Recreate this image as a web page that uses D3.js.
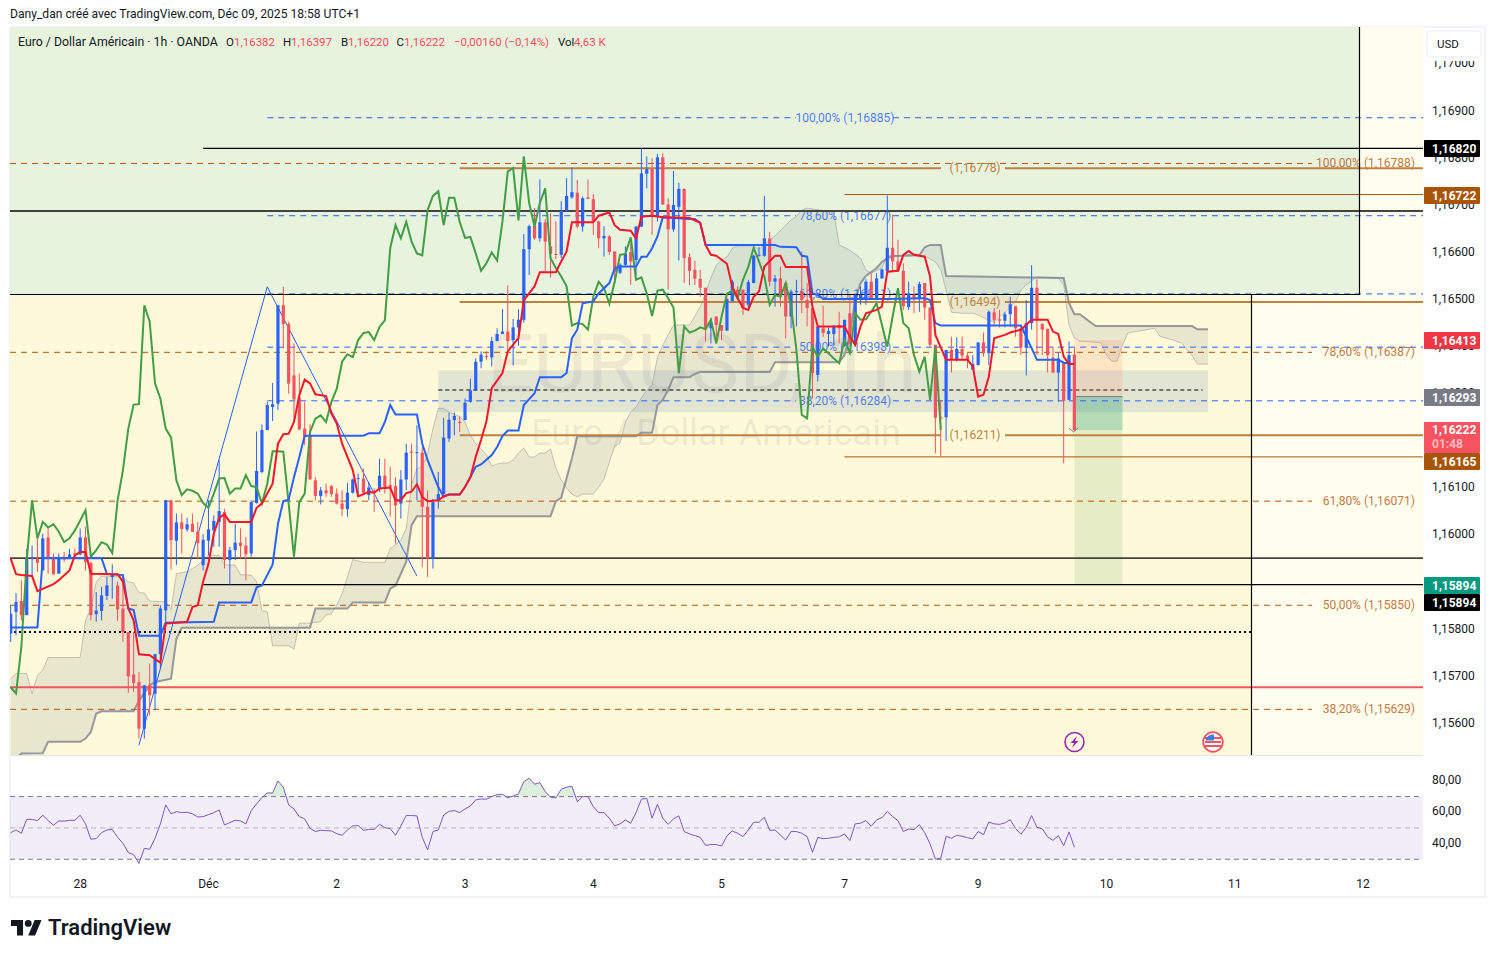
<!DOCTYPE html>
<html>
<head>
<meta charset="utf-8">
<script src="https://d3js.org/d3.v7.min.js"></script>
<style>
  html, body { margin: 0; padding: 0; background: #fff; }
  svg { display: block; font-family: Roboto, "Noto Sans", sans-serif; }
</style>
</head>
<body>
<svg id="chart" width="1495" height="958"></svg>
<script>
// prices are stored as price x 100000 (116382 = 1,16382)
var opens = [115790,115836,115859,115829,115949,115949,115924,115994,115953,115917,
115953,115951,115960,115958,115994,115940,115831,115838,115870,115910,
115892,115843,115793,115703,115687,115588,115680,115662,115746,115839,
116073,115987,116026,116011,116023,116006,115935,115987,116009,116027,
116048,115946,115967,115983,115977,115960,116067,116133,116222,116271,
116278,116487,116447,116338,116291,116225,116210,116115,116082,116094,
116103,116087,116066,116054,116089,116118,116119,116084,116093,116096,
116125,116105,116103,116066,116117,116176,116173,116174,116059,115949,
116073,116086,116204,116243,116239,116243,116282,116306,116367,116379,
116376,116411,116426,116431,116413,116440,116456,116606,116655,116629,
116663,116612,116596,116594,116687,116716,116726,116654,116716,116712,
116665,116629,116633,116601,116556,116573,116600,116583,116654,116766,
116776,116675,116801,116701,116648,116696,116734,116589,116562,116543,
116524,116438,116463,116445,116433,116496,116520,116520,116488,116534,
116592,116592,116629,116537,116544,116534,116463,116515,116517,116498,
116481,116339,116438,116426,116426,116445,116401,116470,116406,116500,
116500,116537,116498,116544,116560,116609,116580,116560,116483,116509,
116500,116534,116482,116403,116249,116249,116392,116371,116394,116380,
116350,116360,116408,116385,116472,116457,116454,116468,116485,116439,
116397,116449,116524,116447,116437,116376,116344,116364,116286,116382];

var highs = [115850,115876,115903,115970,115977,115992,116002,116013,115960,115960,
115963,115970,115970,116013,116016,115942,115878,115889,115910,115937,
115900,115910,115793,115793,115708,115680,115726,115747,115850,116073,
116073,116045,116045,116036,116045,116027,116001,116073,116041,116158,
116055,115974,116023,116013,115995,116073,116219,116234,116282,116322,
116487,116526,116452,116406,116342,116282,116234,116122,116101,116108,
116105,116098,116094,116110,116119,116130,116140,116112,116098,116161,
116161,116144,116122,116137,116193,116193,116232,116186,116094,116076,
116133,116248,116259,116259,116251,116289,116331,116374,116389,116389,
116420,116438,116479,116529,116458,116479,116638,116658,116693,116754,
116670,116682,116665,116708,116757,116779,116753,116718,116754,116723,
116666,116655,116636,116601,116576,116612,116617,116655,116820,116803,
116799,116808,116810,116714,116772,116747,116735,116597,116582,116562,
116524,116459,116463,116445,116502,116541,116527,116520,116541,116594,
116611,116719,116643,116551,116569,116534,116520,116541,116601,116534,
116481,116442,116486,116440,116445,116473,116456,116509,116512,116527,
116542,116555,116555,116565,116720,116679,116626,116576,116537,116527,
116537,116534,116482,116403,116286,116392,116420,116419,116420,116385,
116381,116408,116429,116476,116481,116477,116473,116505,116485,116442,
116498,116572,116542,116449,116437,116399,116387,116364,116410,116397];

var lows = [115772,115786,115818,115829,115910,115921,115924,115917,115914,115917,
115942,115949,115949,115956,115924,115818,115815,115818,115861,115864,
115817,115772,115664,115666,115567,115567,115616,115627,115716,115804,
115926,115935,115960,116006,116006,115949,115924,115956,115974,115974,
115928,115892,115946,115949,115903,115953,116066,116130,116222,116241,
116265,116395,116299,116246,116222,116190,116117,116072,116064,116080,
116080,116064,116039,116038,116087,116080,116084,116073,116048,116091,
116087,116038,115981,116034,116094,116094,116073,115931,115910,115928,
116055,116080,116197,116211,116218,116243,116280,116306,116353,116371,
116357,116410,116428,116392,116359,116401,116450,116551,116626,116622,
116558,116546,116585,116587,116686,116713,116650,116643,116712,116636,
116608,116590,116594,116534,116553,116569,116530,116551,116653,116735,
116636,116665,116700,116520,116643,116582,116534,116530,116530,116505,
116410,116406,116406,116413,116433,116495,116498,116466,116481,116534,
116590,116590,116527,116484,116484,116417,116438,116442,116470,116442,
116289,116325,116420,116399,116403,116406,116399,116399,116399,116488,
116488,116502,116498,116543,116558,116558,116558,116477,116477,116470,
116473,116456,116399,116173,116166,116199,116344,116367,116371,116353,
116350,116359,116378,116360,116445,116440,116440,116442,116420,116381,
116338,116435,116381,116381,116344,116344,116282,116151,116286,116220];

var closes = [115832,115857,115829,115950,115950,115940,115992,115949,115916,115951,
115947,115958,115957,115994,115942,115829,115839,115871,115892,115914,
115841,115793,115699,115685,115588,115680,115659,115746,115843,116073,
115988,116026,116012,116022,116006,115982,115989,116011,116029,116050,
115946,115967,115983,115976,115958,116069,116135,116222,116275,116277,
116487,116447,116321,116287,116223,116207,116117,116082,116094,116088,
116086,116066,116054,116089,116117,116120,116089,116100,116090,116125,
116101,116100,116062,116117,116174,116175,116175,116059,115949,116069,
116086,116206,116244,116252,116238,116280,116306,116367,116382,116378,
116411,116426,116431,116411,116440,116456,116606,116655,116629,116663,
116622,116596,116594,116687,116719,116727,116654,116714,116713,116666,
116629,116634,116600,116558,116573,116597,116580,116654,116767,116776,
116675,116801,116701,116648,116700,116734,116587,116560,116543,116524,
116438,116450,116445,116433,116500,116537,116505,116481,116536,116592,
116594,116629,116537,116544,116505,116463,116516,116517,116498,116481,
116343,116442,116428,116432,116442,116438,116456,116406,116509,116509,
116537,116500,116544,116563,116609,116580,116560,116485,116511,116500,
116532,116482,116403,116248,116246,116392,116371,116394,116380,116371,
116362,116408,116385,116473,116456,116454,116468,116489,116438,116397,
116449,116524,116456,116435,116381,116344,116374,116284,116381,116222];

// ichimoku lines, vertices only where the line bends
var tenkanBars = [0,1,2,4,5,8,9,11,12,13,14,15,20,21,22,23,24,26,28,29,33,34,35,36,37,38,39,40,41,45,46,47,49,50,51,52,53,54,55,56,57,59,60,61,62,63,64,65,67,68,69,71,72,73,74,75,76,77,78,80,81,82,84,85,86,87,88,89,90,92,93,95,96,98,99,102,103,104,105,109,110,112,113,114,116,117,118,120,122,127,129,130,131,132,134,135,136,137,138,139,140,141,143,144,145,149,150,151,156,157,158,159,160,162,163,164,166,167,168,169,171,172,173,175,179,180,181,182,183,184,186,187,189,191,194,195,196,197,198,199];
var tenkan = [115949,115916,115914,115912,115880,115895,115903,115924,115956,115963,115963,115917,115916,115900,115843,115818,115746,115744,115728,115811,115815,115846,115850,115900,115938,116002,116036,116043,116027,116027,116057,116066,116108,116193,116213,116214,116239,116296,116329,116321,116298,116294,116257,116236,116193,116165,116137,116081,116091,116089,116098,116100,116073,116073,116088,116091,116107,116080,116071,116073,116081,116085,116085,116101,116122,116165,116201,116240,116311,116343,116389,116417,116498,116527,116557,116557,116580,116601,116663,116663,116677,116684,116657,116647,116645,116629,116675,116677,116674,116672,116662,116615,116594,116592,116575,116527,116502,116481,116477,116505,116516,116569,116592,116592,116568,116568,116484,116442,116442,116420,116403,116442,116470,116477,116484,116558,116560,116594,116602,116594,116590,116548,116424,116371,116371,116357,116293,116297,116335,116417,116424,116429,116435,116456,116456,116431,116426,116378,116362,116362];

var kijunBars = [0,5,6,17,18,21,22,23,24,28,29,38,39,45,46,47,49,50,51,52,53,54,55,66,67,69,70,71,72,76,77,78,80,81,82,84,85,86,87,88,90,91,92,93,95,96,98,99,103,104,105,106,107,109,110,112,113,114,117,118,119,120,121,122,127,128,129,130,143,144,147,148,149,150,151,152,164,171,172,173,174,189,190,191,192,196,197,199];
var kijun = [115803,115803,115950,115950,115916,115914,115843,115840,115785,115785,115813,115815,115856,115856,115888,115892,115936,116023,116071,116074,116122,116165,116210,116210,116215,116215,116239,116275,116255,116255,116193,116158,116101,116081,116085,116085,116101,116122,116144,116149,116169,116186,116209,116221,116221,116275,116300,116334,116334,116343,116417,116435,116491,116495,116512,116534,116565,116569,116569,116590,116590,116608,116633,116674,116670,116670,116662,116615,116615,116611,116610,116592,116590,116512,116509,116500,116500,116502,116498,116449,116444,116444,116420,116396,116371,116371,116365,116362];

var spanABars = [0,1,3,4,5,6,7,13,14,15,16,17,21,22,23,24,25,26,29,30,31,33,34,35,37,39,40,42,43,45,46,47,48,49,52,53,54,56,58,59,60,61,62,63,64,66,70,71,73,74,75,76,77,78,79,80,81,82,84,85,86,87,88,89,90,91,92,93,94,95,96,97,98,99,100,101,102,103,104,105,106,107,109,110,111,112,113,114,115,116,117,118,119,120,121,122,123,124,127,129,130,131,132,133,134,135,136,139,140,142,143,145,146,147,148,149,154,155,157,159,160,161,163,164,165,167,169,171,173,174,175,176,178,180,181,183,184,186,188,189,190,192,196,197,198,199,200,204,205,206,207,208,209,214,215,218,219,221,222,224];
var spanA = [115694,115705,115705,115662,115701,115712,115739,115739,115818,115843,115900,115912,115910,115900,115897,115877,115876,115859,115857,115841,115917,115921,115928,115935,115956,115956,115936,115935,115915,115914,115900,115839,115836,115764,115764,115757,115812,115812,115815,115829,115832,115850,115875,115910,115947,115941,115941,115970,115988,116013,116108,116140,116144,116172,116225,116268,116268,116260,116251,116239,116211,116193,116182,116169,116145,116150,116152,116152,116158,116173,116184,116165,116165,116173,116173,116182,116141,116116,116099,116086,116080,116086,116086,116101,116118,116154,116188,116194,116239,116260,116271,116290,116307,116317,116377,116402,116424,116445,116445,116483,116513,116545,116572,116583,116589,116608,116613,116613,116606,116625,116634,116657,116668,116676,116689,116693,116685,116615,116604,116587,116562,116555,116566,116591,116593,116593,116596,116591,116579,116562,116519,116472,116470,116470,116466,116455,116451,116472,116494,116519,116530,116547,116545,116530,116445,116417,116411,116407,116381,116368,116368,116402,116428,116438,116421,116411,116407,116381,116362,116362];

var spanBBars = [0,2,6,7,13,14,15,16,17,23,24,26,27,30,31,32,56,57,63,64,70,71,72,74,75,76,101,102,103,105,106,117,118,120,121,122,123,124,127,128,129,142,143,155,156,157,158,159,160,162,163,164,165,170,171,172,174,175,197,198,199,200,203,221,222,224];
var spanB = [115514,115535,115536,115560,115560,115567,115581,115620,115625,115625,115647,115680,115687,115694,115779,115802,115802,115843,115843,115856,115856,115885,115892,115942,116020,116039,116039,116071,116078,116162,116209,116209,116216,116216,116275,116286,116307,116334,116334,116341,116345,116345,116366,116366,116381,116424,116498,116534,116549,116566,116579,116587,116591,116593,116610,116615,116615,116549,116545,116492,116468,116468,116443,116443,116436,116436];

// chikou has one value per bar, starting at bar 0
var chikou = [115676,115663,115762,115946,116073,115992,116027,116015,116022,116006,
115984,115992,116009,116030,116052,115953,115967,115984,115979,115961,
116072,116137,116225,116276,116277,116487,116452,116321,116289,116225,
116206,116115,116084,116096,116093,116087,116067,116057,116087,116119,
116120,116087,116098,116098,116126,116103,116101,116066,116108,116177,
116177,116176,116066,115953,116069,116087,116218,116246,116253,116239,
116282,116310,116367,116383,116377,116413,116428,116430,116413,116441,
116455,116608,116657,116629,116664,116622,116597,116593,116689,116719,
116729,116657,116715,116715,116664,116630,116632,116597,116560,116576,
116599,116582,116665,116771,116778,116667,116803,116704,116654,116704,
116735,116587,116566,116548,116527,116444,116449,116447,116435,116505,
116537,116523,116490,116537,116594,116596,116631,116541,116546,116512,
116464,116518,116520,116502,116482,116343,116442,116429,116433,116440,
116436,116456,116406,116463,116511,116518,116502,116541,116569,116609,
116580,116548,116488,116509,116505,116534,116484,116392,116254,116247,
116399,116378,116395,116385,116374,116364,116413,116386,116470,116456,
116457,116473,116491,116445,116399,116463,116523,116449,116438,116381,
116346,116378,116286,116399,116222];

var rsi = [47.0,48.7,46.6,55.5,55.5,54.7,58.1,54.7,51.7,54.5,
54.3,54.9,54.9,58.1,52.6,42.8,43.2,47.0,48.7,49.1,
44.0,40.2,34.3,33.0,27.4,37.0,36.4,43.4,52.6,64.7,
59.0,60.4,59.8,60.0,59.0,57.0,57.2,58.5,59.8,61.5,
51.9,53.4,54.9,54.5,52.6,61.1,65.3,69.4,72.3,72.3,
80.0,76.0,64.7,62.1,57.2,55.8,49.8,47.7,48.5,48.3,
48.1,46.4,45.3,48.7,51.3,51.5,48.5,49.1,49.1,52.3,
50.2,49.6,45.3,51.3,57.9,57.9,57.7,44.0,36.0,47.7,
48.7,58.3,60.6,61.1,59.8,62.1,64.0,67.9,68.5,68.3,
70.0,71.3,71.5,69.2,70.4,71.7,79.6,81.7,77.9,78.9,
73.2,69.6,69.2,74.7,76.0,76.6,66.8,70.0,70.0,63.6,
59.8,59.8,56.2,51.3,52.6,55.1,53.0,59.8,68.3,68.9,
56.2,65.1,56.2,52.3,55.8,57.7,47.7,46.2,45.1,44.0,
38.9,39.4,39.4,38.5,44.9,48.1,46.6,44.5,48.7,
53.6,53.6,56.8,48.5,48.7,45.5,42.3,47.7,47.7,46.6,
44.5,34.5,44.0,43.2,43.4,44.0,44.3,46.2,41.9,52.6,
53.0,54.7,51.1,55.1,56.6,60.4,57.2,54.7,47.7,49.4,
48.9,52.1,47.0,39.8,30.2,30.6,44.7,43.4,45.3,44.7,
43.8,43.0,47.7,45.7,53.8,52.6,52.3,53.2,55.3,49.6,
46.0,50.4,57.9,50.4,49.4,44.3,42.1,45.1,38.7,47.5,37.7];

// zigzag drawn on the chart
var zigzagBars = [24, 48, 76];
var zigzag = [115553, 116526, 115912];

// levels
var blueFibPct = ["100,00%", "78,60%", "61,80%", "50,00%", "38,20%"];
var blueFib = [116885, 116677, 116511, 116398, 116284];
var brownFibPct = ["100,00%", "78,60%", "61,80%", "50,00%", "38,20%"];
var brownFib = [116788, 116387, 116071, 115850, 115629];
var orangeLevels = [116778, 116494, 116211];
var thinBrownLevels = [116722, 116165];
var thinBlackLevels = [116820, 115894];
var darkLevels = [116687, 115950];
var redLevel = 115676;
var dottedLevel = 115793;
var boxTop = 116349, boxBottom = 116260, boxMid = 116307;
var stopPrice = 116413, entryPrice = 116293, targetPrice = 115894, lastPrice = 116222;

// axes
var priceTicks = [115600,115700,115800,116000,116100,116300,116400,116500,116600,116700,116800,116900,117000];
var rsiTicks = [40, 60, 80];
var dayBars = [13, 37, 61, 85, 109, 133, 156, 181, 205, 229, 253];
var dayLabels = ["28", "Déc", "2", "3", "4", "5", "7", "9", "10", "11", "12"];

// tags on the price axis
var tagPrices = [116820, 116722, 116413, 116293, 116165, 115894, 115894];
var tagColors = ["#000000", "#a85507", "#f23645", "#787b86", "#a85507", "#089981", "#000000"];
var tagTops = [140, 187, 332, 389, 453, 577, 594];

var UP = "#2962ff", DOWN = "#f7525f";
var paneLeft = 10, paneRight = 1423, paneTop = 27, paneBottom = 755;

var fmt = function(v) { return (v / 100000).toFixed(5).replace(".", ","); };

var svg = d3.select("#chart");
var xBar = d3.scaleLinear().domain([0, 253]).range([10.7, 1363]);
var yPrice = d3.scaleLinear().domain([115600, 116900]).range([723, 110.7]);
var yRsi = d3.scaleLinear().domain([30, 70]).range([859.3, 796.6]);

var defs = svg.append("defs");
defs.append("clipPath").attr("id", "pane").append("rect")
  .attr("x", paneLeft).attr("y", paneTop).attr("width", paneRight - paneLeft).attr("height", paneBottom - paneTop);
defs.append("clipPath").attr("id", "ob").append("rect")
  .attr("x", paneLeft).attr("y", 756).attr("width", paneRight - paneLeft).attr("height", yRsi(70) - 756);

// header
svg.append("text").attr("x", 10).attr("y", 18).attr("font-size", 12.1).attr("fill", "#131722")
  .text("Dany_dan créé avec TradingView.com, Déc 09, 2025 18:58 UTC+1");

// frame and backgrounds
svg.append("rect").attr("x", paneLeft).attr("y", paneTop).attr("width", 1475).attr("height", 870)
  .attr("fill", "#fff").attr("stroke", "#f0f3fa").attr("stroke-width", 2);
svg.append("rect").attr("x", paneLeft).attr("y", paneTop).attr("width", paneRight - paneLeft).attr("height", paneBottom - paneTop).attr("fill", "#fffeee");
svg.append("rect").attr("x", paneLeft).attr("y", paneTop).attr("width", 1359 - paneLeft).attr("height", 294 - paneTop).attr("fill", "#e8f3de");
svg.append("rect").attr("x", paneLeft).attr("y", 294).attr("width", 1251 - paneLeft).attr("height", paneBottom - 294).attr("fill", "#fef9d9");
svg.append("line").attr("x1", paneLeft).attr("x2", 1423).attr("y1", 755.5).attr("y2", 755.5).attr("stroke", "#e0e3eb");

var chart = svg.append("g").attr("clip-path", "url(#pane)");

function hline(price, x1, x2, color, width, dash) {
  var l = chart.append("line").attr("x1", x1).attr("x2", x2)
    .attr("y1", yPrice(price)).attr("y2", yPrice(price))
    .attr("stroke", color).attr("stroke-width", width);
  if (dash) l.attr("stroke-dasharray", dash);
  return l;
}

// watermark
chart.append("text").attr("x", 487).attr("y", 392).attr("font-size", 82)
  .attr("fill", "#787b86").attr("fill-opacity", 0.13).text("EURUSD, 1h");
chart.append("text").attr("x", 716).attr("y", 445).attr("text-anchor", "middle").attr("font-size", 36)
  .attr("fill", "#787b86").attr("fill-opacity", 0.13).text("Euro / Dollar Américain");

// grey box with its dashed middle line
chart.append("rect").attr("x", xBar(80)).attr("width", xBar(224) - xBar(80))
  .attr("y", yPrice(boxTop)).attr("height", yPrice(boxBottom) - yPrice(boxTop))
  .attr("fill", "#7a96c0").attr("fill-opacity", 0.2);
hline(boxMid, xBar(80), xBar(223), "#000", 1.2, "4 3");

// ichimoku cloud
var pointsA = spanABars.map(function(b, i) { return [b, spanA[i]]; });
var pointsB = spanBBars.map(function(b, i) { return [b, spanB[i]]; });
var lineXY = d3.line().x(function(d) { return xBar(d[0]); }).y(function(d) { return yPrice(d[1]); });
chart.append("path").attr("d", lineXY(pointsA.concat(pointsB.slice().reverse())) + "Z")
  .attr("fill", "#788090").attr("fill-opacity", 0.16);
chart.append("path").attr("d", lineXY(pointsA)).attr("fill", "none").attr("stroke", "#787b86").attr("stroke-opacity", 0.4).attr("stroke-width", 1);
chart.append("path").attr("d", lineXY(pointsB)).attr("fill", "none").attr("stroke", "#787b86").attr("stroke-opacity", 0.75).attr("stroke-width", 2);

// position tool
var posL = xBar(199), posR = xBar(208);
chart.append("rect").attr("x", posL).attr("width", posR - posL).attr("y", yPrice(stopPrice)).attr("height", yPrice(entryPrice) - yPrice(stopPrice))
  .attr("fill", "#f7825f").attr("fill-opacity", 0.17);
chart.append("rect").attr("x", posL).attr("width", posR - posL).attr("y", yPrice(entryPrice)).attr("height", yPrice(targetPrice) - yPrice(entryPrice))
  .attr("fill", "#43a047").attr("fill-opacity", 0.13);
chart.append("rect").attr("x", posL).attr("width", posR - posL).attr("y", yPrice(entryPrice)).attr("height", yPrice(lastPrice) - yPrice(entryPrice))
  .attr("fill", "#089981").attr("fill-opacity", 0.22);
hline(entryPrice, posL, posR, "#787b86", 1);

// blue fibonacci
blueFib.forEach(function(p, i) {
  hline(p, xBar(48), 796, UP, 1, "6 5");
  hline(p, 893, paneRight, UP, 1, "6 5");
  chart.append("text").attr("x", 845).attr("y", yPrice(p) + 4).attr("text-anchor", "middle").attr("font-size", 12)
    .attr("fill", UP).attr("fill-opacity", 0.8).text(blueFibPct[i] + " (" + fmt(p) + ")");
});

// brown fibonacci
brownFib.forEach(function(p, i) {
  hline(p, paneLeft, 1312, "#b3540e", 1, "6 5");
  chart.append("text").attr("x", 1415).attr("y", yPrice(p) + 4).attr("text-anchor", "end").attr("font-size", 12)
    .attr("fill", "#b3540e").attr("fill-opacity", 0.8).text(brownFibPct[i] + " (" + fmt(p) + ")");
});

// orange levels with a label in the gap
orangeLevels.forEach(function(p) {
  hline(p, xBar(84), 941, "#bd8242", 2);
  hline(p, 1005, paneRight, "#bd8242", 2);
  chart.append("text").attr("x", 975).attr("y", yPrice(p) + 4).attr("text-anchor", "middle").attr("font-size", 12)
    .attr("fill", "#bd8242").text("(" + fmt(p) + ")");
});

// other horizontal levels
thinBrownLevels.forEach(function(p) { hline(p, xBar(156), paneRight, "#a85507", 1); });
thinBlackLevels.forEach(function(p) { hline(p, xBar(36), paneRight, "#000", 1.2); });
darkLevels.forEach(function(p) { hline(p, paneLeft, paneRight, "#44443c", 1.8); });
hline(redLevel, paneLeft, paneRight, "#f0575f", 2);
hline(dottedLevel, 14, 1251, "#000", 2, "2 3");

// zone borders
chart.append("path").attr("d", "M10,294.5H1359.5V27").attr("fill", "none").attr("stroke", "#000").attr("stroke-width", 1.2);
chart.append("line").attr("x1", 1251.5).attr("x2", 1251.5).attr("y1", 294).attr("y2", 755).attr("stroke", "#000").attr("stroke-width", 1.2);

// zigzag
chart.append("path").attr("d", lineXY(zigzagBars.map(function(b, i) { return [b, zigzag[i]]; })))
  .attr("fill", "none").attr("stroke", UP).attr("stroke-width", 1);

// candles
var candles = closes.map(function(c, i) {
  return { i: i, o: opens[i], h: highs[i], l: lows[i], c: c };
});
var candleColor = function(d) { return d.c >= d.o ? UP : DOWN; };
chart.append("g").selectAll("line").data(candles).enter().append("line")
  .attr("x1", function(d) { return xBar(d.i); }).attr("x2", function(d) { return xBar(d.i); })
  .attr("y1", function(d) { return yPrice(d.h); }).attr("y2", function(d) { return yPrice(d.l); })
  .attr("stroke", candleColor).attr("stroke-width", 1);
chart.append("g").selectAll("rect").data(candles).enter().append("rect")
  .attr("x", function(d) { return xBar(d.i) - 1.6; }).attr("width", 3.2)
  .attr("y", function(d) { return yPrice(Math.max(d.o, d.c)); })
  .attr("height", function(d) { return Math.max(1, Math.abs(yPrice(d.o) - yPrice(d.c))); })
  .attr("fill", candleColor);

// chikou, kijun, tenkan
chart.append("path").attr("d", lineXY(chikou.map(function(v, i) { return [i, v]; })))
  .attr("fill", "none").attr("stroke", "#439c46").attr("stroke-width", 2);
chart.append("path").attr("d", lineXY(kijunBars.map(function(b, i) { return [b, kijun[i]]; })))
  .attr("fill", "none").attr("stroke", UP).attr("stroke-width", 2);
chart.append("path").attr("d", lineXY(tenkanBars.map(function(b, i) { return [b, tenkan[i]]; })))
  .attr("fill", "none").attr("stroke", "#f7152a").attr("stroke-width", 2);

// small chevron under the last candle
chart.append("path").attr("d", "M1069,428L1073.5,432L1078,428").attr("fill", "none").attr("stroke", "#787b86").attr("stroke-width", 1);

// event icons
var bolt = svg.append("g").attr("transform", "translate(1074.5,742)");
bolt.append("circle").attr("r", 9.5).attr("fill", "#fff8e0").attr("stroke", "#9c27b0").attr("stroke-width", 1.6);
bolt.append("path").attr("d", "M2.5,-6L-4,1H-0.5L-2.5,6L4,-1H0.5Z").attr("fill", "#9c27b0");
var flag = svg.append("g").attr("transform", "translate(1213,742)");
flag.append("circle").attr("r", 9.8).attr("fill", "#fff").attr("stroke", "#f7525f").attr("stroke-width", 1.8);
[-5, -1, 3].forEach(function(dy) {
  flag.append("rect").attr("x", -8).attr("y", dy).attr("width", 16).attr("height", 2).attr("fill", "#f7525f");
});
flag.append("path").attr("d", "M-7.5,-1.5A7.5,7.5,0,0,1,1,-7.5V-1.5Z").attr("fill", "#3d7be0");

// legend strip
var legend = svg.append("text").attr("y", 46).attr("font-size", 11.5).attr("fill", "#131722");
var legendParts = [
  [18, "Euro / Dollar Américain · 1h · OANDA", "#131722", 12.3],
  [226, "O", "#131722", 11.5], [234, "1,16382", DOWN, 11.5],
  [283, "H", "#131722", 11.5], [291, "1,16397", DOWN, 11.5],
  [341, "B", "#131722", 11.5], [348, "1,16220", DOWN, 11.5],
  [396.5, "C", "#131722", 11.5], [404, "1,16222", DOWN, 11.5],
  [454, "−0,00160 (−0,14%)", DOWN, 11.5],
  [558, "Vol", "#131722", 11.5], [574, "4,63 K", DOWN, 11.5]
];
legendParts.forEach(function(p) {
  legend.append("tspan").attr("x", p[0]).attr("fill", p[2]).attr("font-size", p[3]).text(p[1]);
});

// price axis
var yAxis = d3.axisRight(yPrice).tickValues(priceTicks).tickSize(0).tickPadding(9).tickFormat(fmt);
var yg = svg.append("g").attr("transform", "translate(" + paneRight + ",-0.5)").call(yAxis);
yg.select(".domain").remove();
yg.selectAll("text").attr("font-size", 12).attr("fill", "#131722").attr("font-family", "Roboto, sans-serif");

// USD button, it sits over the top tick label
svg.append("rect").attr("x", 1424).attr("y", 28).attr("width", 60).attr("height", 33).attr("fill", "#fff");
svg.append("rect").attr("x", 1427).attr("y", 31).attr("width", 54).attr("height", 26).attr("rx", 4)
  .attr("fill", "#fff").attr("stroke", "#f0f3fa").attr("stroke-width", 1.5);
svg.append("text").attr("x", 1437).attr("y", 48).attr("font-size", 11.5).attr("fill", "#131722").text("USD");

// price tags
tagPrices.forEach(function(p, i) {
  svg.append("rect").attr("x", 1424).attr("y", tagTops[i]).attr("width", 56).attr("height", 17).attr("rx", 1).attr("fill", tagColors[i]);
  svg.append("text").attr("x", 1432).attr("y", tagTops[i] + 13).attr("font-size", 12).attr("font-weight", 700)
    .attr("fill", "#fff").text(fmt(p));
});
svg.append("rect").attr("x", 1424).attr("y", 422).attr("width", 56).attr("height", 31).attr("rx", 1).attr("fill", DOWN);
svg.append("text").attr("x", 1432).attr("y", 434).attr("font-size", 12).attr("font-weight", 700).attr("fill", "#fff").text(fmt(lastPrice));
svg.append("text").attr("x", 1432).attr("y", 448).attr("font-size", 12).attr("font-weight", 700).attr("fill", "#fff").attr("fill-opacity", 0.6).text("01:48");

// RSI pane
svg.append("rect").attr("x", paneLeft).attr("width", paneRight - paneLeft)
  .attr("y", yRsi(70)).attr("height", yRsi(30) - yRsi(70)).attr("fill", "#7e57c2").attr("fill-opacity", 0.1);
[70, 50, 30].forEach(function(v) {
  svg.append("line").attr("x1", paneLeft).attr("x2", paneRight).attr("y1", yRsi(v)).attr("y2", yRsi(v))
    .attr("stroke", "#787b86").attr("stroke-opacity", v === 50 ? 0.5 : 1).attr("stroke-dasharray", "5 4");
});
var rsiArea = d3.area().x(function(d, i) { return xBar(i); }).y0(yRsi(70)).y1(function(d) { return yRsi(d); });
svg.append("path").datum(rsi).attr("d", rsiArea).attr("clip-path", "url(#ob)").attr("fill", "#4caf50").attr("fill-opacity", 0.2);
var rsiLine = d3.line().x(function(d, i) { return xBar(i); }).y(function(d) { return yRsi(d); });
svg.append("path").datum(rsi).attr("d", rsiLine).attr("fill", "none").attr("stroke", "#7e57c2").attr("stroke-width", 1);

var rAxis = d3.axisRight(yRsi).tickValues(rsiTicks).tickSize(0).tickPadding(9)
  .tickFormat(function(v) { return v + ",00"; });
var rg = svg.append("g").attr("transform", "translate(" + paneRight + ",-1.2)").call(rAxis);
rg.select(".domain").remove();
rg.selectAll("text").attr("font-size", 12).attr("fill", "#131722").attr("font-family", "Roboto, sans-serif");

// time axis
var xAxis = d3.axisBottom(xBar).tickValues(dayBars).tickSize(0).tickPadding(8)
  .tickFormat(function(d, i) { return dayLabels[i]; });
var xg = svg.append("g").attr("transform", "translate(-0.5,871)").call(xAxis);
xg.select(".domain").remove();
xg.selectAll("text").attr("font-size", 12).attr("fill", "#131722").attr("font-family", "Roboto, sans-serif");

// TradingView logo
var logo = svg.append("g").attr("transform", "translate(11,916.5) scale(0.86)").attr("fill", "#131722");
logo.append("path").attr("d", "M14 22H7V11H0V4h14v18zM28 22h-8l7.5-18h8L28 22z");
logo.append("circle").attr("cx", 20).attr("cy", 8).attr("r", 4);
svg.append("text").attr("x", 48).attr("y", 935).attr("font-size", 22).attr("font-weight", 600)
  .attr("fill", "#131722").text("TradingView");
</script>
</body>
</html>
